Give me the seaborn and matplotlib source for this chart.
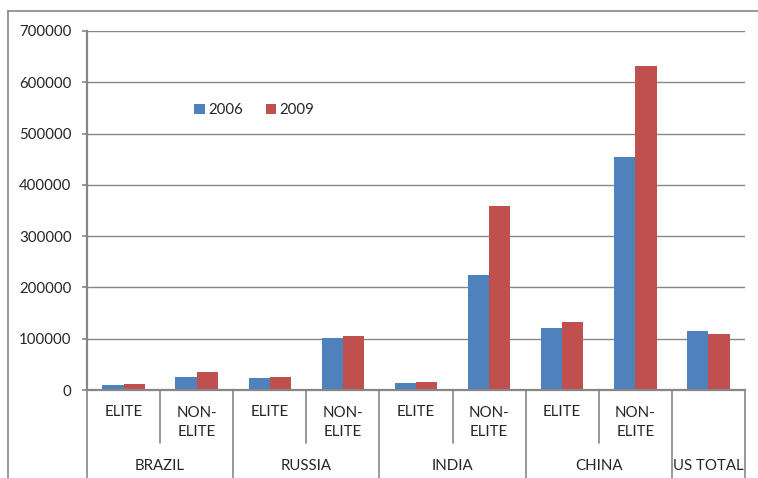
import pandas as pd
import seaborn as sns
import numpy as np
import matplotlib.pyplot as plt
from matplotlib.lines import Line2D

# data
cats = ['BRAZIL ELITE', 'BRAZIL NON-ELITE', 'RUSSIA ELITE', 'RUSSIA NON-ELITE',
        'INDIA ELITE', 'INDIA NON-ELITE', 'CHINA ELITE', 'CHINA NON-ELITE', 'US TOTAL']
sub_labels = ['ELITE', 'NON-\nELITE', 'ELITE', 'NON-\nELITE', 'ELITE', 'NON-\nELITE',
              'ELITE', 'NON-\nELITE', '']
groups = ['BRAZIL', 'RUSSIA', 'INDIA', 'CHINA', 'US TOTAL']
group_size = [2, 2, 2, 2, 1]
years = ['2006', '2009']
v2006 = [9700, 24700, 24000, 102000, 13000, 224700, 121400, 454800, 115600]
v2009 = [12000, 34500, 25300, 105800, 16200, 358700, 132500, 631600, 108500]
colors = ['#4F81BD', '#C0504D']

df = pd.DataFrame({'cat': cats * 2,
                   'year': [years[0]] * len(cats) + [years[1]] * len(cats),
                   'value': v2006 + v2009})

sns.set_style('white')
plt.rcParams['font.family'] = ['Lato', 'DejaVu Sans']
fs = 10.8
plt.rcParams['font.size'] = fs

grey = '#868686'
fig = plt.figure(figsize=(7.58, 4.78), dpi=100)
ax = fig.add_axes([87/758, 1 - 390/478, (745-87)/758, (390-31)/478])

sns.barplot(data=df, x='cat', y='value', hue='year', order=cats, hue_order=years,
            palette=colors, width=0.58, saturation=1, linewidth=0, ax=ax)

ax.set_xlim(-0.5, len(cats) - 0.5)
ax.set_ylim(0, 700000)
ax.set_yticks(np.arange(0, 700001, 100000))
ax.set_yticklabels([str(v) for v in range(0, 700001, 100000)])
ax.yaxis.grid(True, color=grey, lw=1.0)
ax.set_axisbelow(True)
ax.set_xlabel('')
ax.set_ylabel('')
ax.set_xticks(range(len(cats)))
ax.set_xticklabels([])
ax.tick_params(axis='x', length=0)
ax.tick_params(axis='y', length=3.6, color=grey, width=1.2, pad=7.5, left=True, labelsize=fs)
for s in ['top', 'right']:
    ax.spines[s].set_visible(False)
for s in ['left', 'bottom']:
    ax.spines[s].set_color(grey)
    ax.spines[s].set_linewidth(1.6)

trans = ax.get_xaxis_transform()
h = 359.0
# first level labels
for i, lab in enumerate(sub_labels):
    if lab:
        ax.text(i, -(21.7 + (10.5 if '\n' in lab else 0)) / h, lab, transform=trans,
                ha='center', va='center', linespacing=1.45)
# separators and group labels
start = 0
bounds = [-0.5]
for g, n in zip(groups, group_size):
    mid = start + (n - 1) / 2
    ax.text(mid, -76 / h, g, transform=trans, ha='center', va='center')
    for k in range(1, n):
        ax.plot([start + k - 0.5] * 2, [0, -53 / h], transform=trans, color=grey,
                lw=1.2, clip_on=False)
    start += n
    bounds.append(start - 0.5)
for b in bounds:
    ax.plot([b, b], [0, -0.4], transform=trans, color=grey, lw=1.2, clip_on=False)

ax.legend(loc='center left', bbox_to_anchor=((194-87)/658, 1 - (110-31)/359),
          ncol=2, frameon=False, borderpad=0, borderaxespad=0,
          handlelength=0.7, handleheight=0.7, handletextpad=0.25,
          columnspacing=1.5, fontsize=fs)

# outer chart frame
fig.add_artist(Line2D([8/758, 1], [1 - 11/478] * 2, color=grey, lw=1.2))
fig.add_artist(Line2D([8/758] * 2, [0, 1 - 11/478], color=grey, lw=1.2))

plt.savefig('out.png', dpi=100)
